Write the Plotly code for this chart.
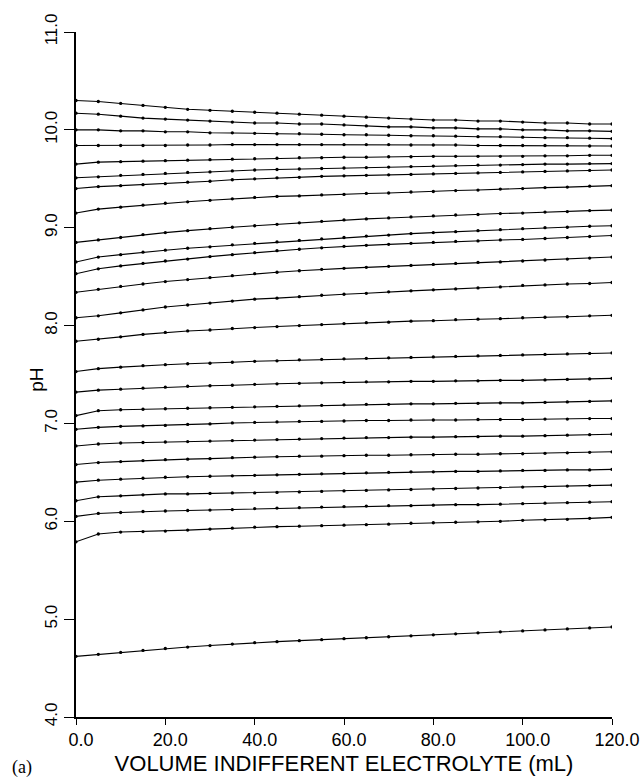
import plotly.graph_objects as go

volume_ml = [0, 5, 10, 15, 20, 25, 30, 35, 40, 45, 50, 55, 60,
             65, 70, 75, 80, 85, 90, 95, 100, 105, 110, 115, 120]

ph_c01 = [10.30, 10.29, 10.27, 10.25, 10.23, 10.21, 10.20, 10.19, 10.18, 10.17, 10.16, 10.15, 10.14,
          10.13, 10.12, 10.11, 10.10, 10.10, 10.09, 10.09, 10.08, 10.07, 10.07, 10.06, 10.06]
ph_c02 = [10.17, 10.16, 10.14, 10.12, 10.11, 10.10, 10.09, 10.08, 10.07, 10.07, 10.06, 10.06, 10.05,
          10.04, 10.03, 10.03, 10.02, 10.02, 10.01, 10.01, 10.00, 10.00, 9.99, 9.99, 9.985]
ph_c03 = [10.00, 10.00, 9.99, 9.99, 9.98, 9.98, 9.97, 9.97, 9.965, 9.96, 9.96, 9.955, 9.95,
          9.95, 9.945, 9.94, 9.94, 9.935, 9.93, 9.93, 9.925, 9.92, 9.92, 9.915, 9.91]
ph_c04 = [9.84, 9.84, 9.84, 9.84, 9.84, 9.845, 9.845, 9.85, 9.85, 9.85, 9.85, 9.85, 9.85,
          9.85, 9.85, 9.845, 9.845, 9.845, 9.84, 9.84, 9.84, 9.84, 9.84, 9.835, 9.835]
ph_c05 = [9.65, 9.67, 9.675, 9.68, 9.685, 9.69, 9.695, 9.70, 9.705, 9.71, 9.715, 9.715, 9.72,
          9.72, 9.725, 9.725, 9.73, 9.73, 9.73, 9.73, 9.73, 9.735, 9.735, 9.74, 9.74]
ph_c06 = [9.51, 9.52, 9.535, 9.545, 9.555, 9.565, 9.57, 9.58, 9.59, 9.595, 9.60, 9.605, 9.61,
          9.615, 9.62, 9.625, 9.63, 9.635, 9.64, 9.64, 9.645, 9.65, 9.65, 9.655, 9.655]
ph_c07 = [9.40, 9.42, 9.43, 9.44, 9.45, 9.465, 9.475, 9.49, 9.50, 9.51, 9.515, 9.525, 9.53,
          9.535, 9.54, 9.545, 9.55, 9.555, 9.56, 9.565, 9.57, 9.575, 9.58, 9.585, 9.59]
ph_c08 = [9.15, 9.19, 9.21, 9.23, 9.25, 9.265, 9.28, 9.295, 9.31, 9.32, 9.325, 9.335, 9.34,
          9.35, 9.355, 9.365, 9.37, 9.38, 9.385, 9.395, 9.40, 9.41, 9.415, 9.425, 9.43]
ph_c09 = [8.85, 8.875, 8.90, 8.93, 8.95, 8.97, 8.99, 9.005, 9.02, 9.035, 9.05, 9.065, 9.08,
          9.09, 9.10, 9.11, 9.12, 9.13, 9.135, 9.145, 9.15, 9.16, 9.165, 9.175, 9.18]
ph_c10 = [8.65, 8.70, 8.725, 8.75, 8.77, 8.79, 8.805, 8.825, 8.84, 8.855, 8.87, 8.885, 8.90,
          8.915, 8.925, 8.94, 8.95, 8.96, 8.97, 8.98, 8.99, 9.00, 9.005, 9.015, 9.02]
ph_c11 = [8.53, 8.58, 8.61, 8.635, 8.66, 8.68, 8.705, 8.725, 8.745, 8.765, 8.78, 8.795, 8.81,
          8.82, 8.83, 8.84, 8.85, 8.86, 8.865, 8.875, 8.88, 8.89, 8.90, 8.91, 8.92]
ph_c12 = [8.34, 8.37, 8.40, 8.425, 8.45, 8.47, 8.49, 8.51, 8.53, 8.545, 8.56, 8.575, 8.585,
          8.595, 8.605, 8.615, 8.625, 8.635, 8.645, 8.65, 8.66, 8.67, 8.68, 8.69, 8.70]
ph_c13 = [8.08, 8.10, 8.13, 8.16, 8.19, 8.21, 8.23, 8.25, 8.27, 8.28, 8.295, 8.31, 8.32,
          8.33, 8.345, 8.355, 8.365, 8.375, 8.385, 8.395, 8.41, 8.415, 8.425, 8.43, 8.44]
ph_c14 = [7.84, 7.86, 7.885, 7.91, 7.93, 7.945, 7.955, 7.97, 7.98, 7.99, 8.00, 8.01, 8.02,
          8.03, 8.035, 8.045, 8.05, 8.06, 8.065, 8.07, 8.08, 8.085, 8.09, 8.10, 8.105]
ph_c15 = [7.53, 7.56, 7.575, 7.59, 7.60, 7.61, 7.615, 7.625, 7.635, 7.64, 7.65, 7.655, 7.66,
          7.665, 7.67, 7.675, 7.68, 7.685, 7.69, 7.695, 7.70, 7.705, 7.71, 7.715, 7.72]
ph_c16 = [7.32, 7.34, 7.35, 7.36, 7.37, 7.38, 7.385, 7.39, 7.40, 7.405, 7.41, 7.415, 7.42,
          7.425, 7.425, 7.43, 7.43, 7.435, 7.435, 7.44, 7.44, 7.445, 7.45, 7.455, 7.46]
ph_c17 = [7.08, 7.13, 7.14, 7.145, 7.15, 7.155, 7.16, 7.165, 7.17, 7.175, 7.18, 7.185, 7.19,
          7.195, 7.195, 7.20, 7.20, 7.205, 7.205, 7.21, 7.21, 7.215, 7.22, 7.225, 7.23]
ph_c18 = [6.94, 6.96, 6.97, 6.975, 6.98, 6.99, 6.995, 7.005, 7.01, 7.015, 7.02, 7.02, 7.025,
          7.03, 7.03, 7.035, 7.035, 7.035, 7.04, 7.04, 7.04, 7.045, 7.045, 7.05, 7.05]
ph_c19 = [6.77, 6.79, 6.80, 6.805, 6.81, 6.815, 6.82, 6.825, 6.83, 6.835, 6.84, 6.845, 6.85,
          6.855, 6.855, 6.86, 6.86, 6.865, 6.865, 6.87, 6.87, 6.875, 6.88, 6.885, 6.89]
ph_c20 = [6.58, 6.60, 6.61, 6.62, 6.63, 6.635, 6.64, 6.65, 6.655, 6.66, 6.665, 6.665, 6.67,
          6.675, 6.675, 6.68, 6.68, 6.685, 6.685, 6.69, 6.69, 6.695, 6.70, 6.705, 6.71]
ph_c21 = [6.40, 6.42, 6.43, 6.44, 6.45, 6.455, 6.46, 6.465, 6.47, 6.475, 6.48, 6.485, 6.49,
          6.495, 6.50, 6.505, 6.505, 6.51, 6.51, 6.515, 6.52, 6.52, 6.525, 6.525, 6.53]
ph_c22 = [6.21, 6.25, 6.26, 6.27, 6.28, 6.28, 6.285, 6.29, 6.29, 6.295, 6.30, 6.305, 6.31,
          6.315, 6.32, 6.325, 6.33, 6.335, 6.34, 6.345, 6.35, 6.355, 6.36, 6.365, 6.37]
ph_c23 = [6.05, 6.08, 6.09, 6.10, 6.105, 6.11, 6.115, 6.12, 6.13, 6.135, 6.14, 6.145, 6.15,
          6.155, 6.16, 6.16, 6.165, 6.17, 6.17, 6.175, 6.18, 6.185, 6.19, 6.195, 6.20]
ph_c24 = [5.79, 5.87, 5.89, 5.895, 5.90, 5.91, 5.92, 5.93, 5.94, 5.945, 5.95, 5.955, 5.96,
          5.965, 5.97, 5.98, 5.985, 5.99, 5.995, 6.00, 6.01, 6.015, 6.02, 6.03, 6.04]
ph_c25 = [4.62, 4.64, 4.66, 4.68, 4.70, 4.715, 4.73, 4.745, 4.76, 4.77, 4.78, 4.79, 4.80,
          4.81, 4.82, 4.83, 4.84, 4.85, 4.86, 4.87, 4.88, 4.89, 4.90, 4.91, 4.92]

curves = [ph_c01, ph_c02, ph_c03, ph_c04, ph_c05, ph_c06, ph_c07, ph_c08, ph_c09,
          ph_c10, ph_c11, ph_c12, ph_c13, ph_c14, ph_c15, ph_c16, ph_c17, ph_c18,
          ph_c19, ph_c20, ph_c21, ph_c22, ph_c23, ph_c24, ph_c25]

x_ticks = [0, 20, 40, 60, 80, 100, 120]
y_ticks = [4, 5, 6, 7, 8, 9, 10, 11]

fig = go.Figure()
for ph in curves:
    fig.add_trace(go.Scatter(
        x=volume_ml, y=ph, mode="lines+markers",
        line=dict(color="black", width=1.1),
        marker=dict(color="black", size=3.3),
        showlegend=False, hoverinfo="skip"))

font_main = "Liberation Sans, Arial, sans-serif"

fig.update_layout(
    width=643, height=778,
    margin=dict(l=76, r=31, t=32, b=61),
    paper_bgcolor="white", plot_bgcolor="white",
    font=dict(family=font_main, color="black"),
    xaxis=dict(
        range=[0, 120], tickvals=x_ticks, tickformat=".1f",
        showgrid=False, zeroline=False, automargin=False,
        showline=True, linecolor="black", linewidth=1.5,
        ticks="outside", ticklen=6, tickwidth=1.2, tickcolor="black",
        tickfont=dict(size=18, family=font_main),
        ticklabelshift=5,
        title=dict(text="VOLUME INDIFFERENT ELECTROLYTE (mL)",
                   font=dict(size=22, family=font_main), standoff=6),
    ),
    yaxis=dict(
        range=[4, 11], tickvals=y_ticks, tickformat=".1f",
        showgrid=False, zeroline=False, automargin=False,
        showline=True, linecolor="black", linewidth=1.5,
        ticks="outside", ticklen=10, tickwidth=1.2, tickcolor="black",
        tickangle=-90,
        tickfont=dict(size=17, family=font_main),
    ),
    annotations=[
        dict(text="pH", xref="paper", yref="paper", x=-0.073, y=0.492,
             xanchor="center", yanchor="middle", textangle=-90, showarrow=False,
             font=dict(size=19, family=font_main)),
        dict(text="(a)", xref="paper", yref="paper", x=-0.1, y=-0.073,
             xanchor="center", yanchor="middle", showarrow=False,
             font=dict(size=18, family="Liberation Serif, Times New Roman, serif")),
    ],
)

fig.write_html("out.html", config={"displayModeBar": False},
               post_script="document.body.style.margin='0';document.body.style.overflow='hidden';")
